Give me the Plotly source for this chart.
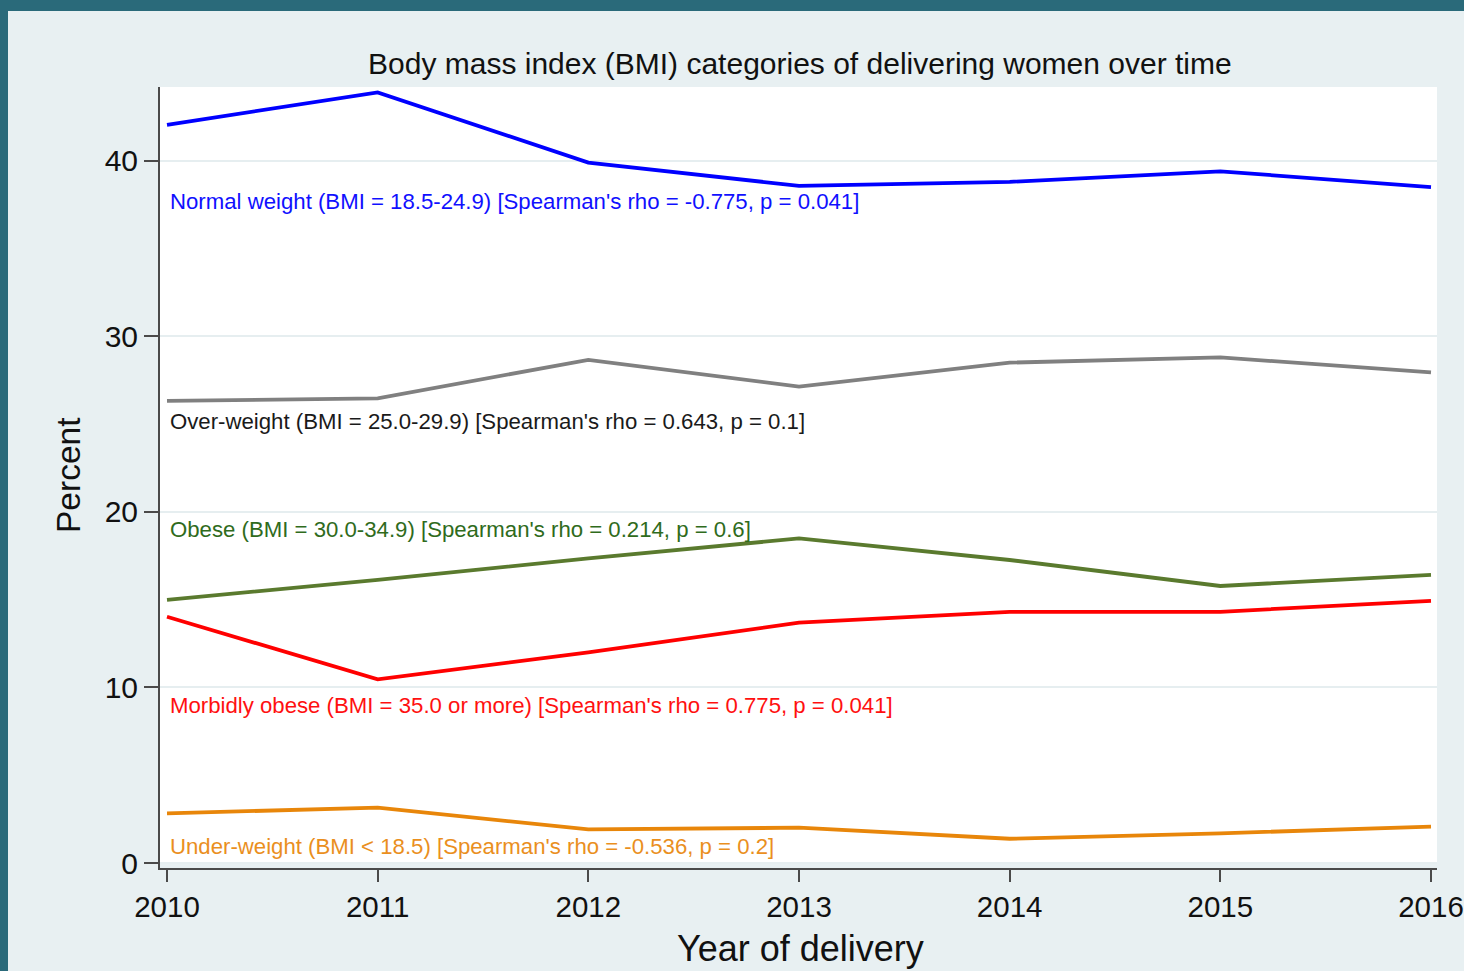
import plotly.graph_objects as go

# ---------------- data ----------------
years = [2010, 2011, 2012, 2013, 2014, 2015, 2016]
normal_weight = [42.05, 43.9, 39.9, 38.57, 38.8, 39.4, 38.5]
over_weight = [26.32, 26.47, 28.66, 27.14, 28.5, 28.8, 27.95]
obese = [14.99, 16.13, 17.35, 18.49, 17.26, 15.78, 16.41]
morbidly_obese = [14.03, 10.46, 12.0, 13.69, 14.31, 14.31, 14.93]
under_weight = [2.83, 3.15, 1.91, 2.01, 1.38, 1.69, 2.07]

x_tick_vals = [2010, 2011, 2012, 2013, 2014, 2015, 2016]
x_tick_text = ["2010", "2011", "2012", "2013", "2014", "2015", "2016"]
y_tick_vals = [0, 10, 20, 30, 40]
y_tick_text = ["0", "10", "20", "30", "40"]

label_normal = "Normal weight (BMI = 18.5-24.9) [Spearman's rho = -0.775, p = 0.041]"
label_over = "Over-weight (BMI = 25.0-29.9) [Spearman's rho = 0.643, p = 0.1]"
label_obese = "Obese (BMI = 30.0-34.9) [Spearman's rho = 0.214, p = 0.6]"
label_morbid = "Morbidly obese (BMI = 35.0 or more) [Spearman's rho = 0.775, p = 0.041]"
label_under = "Under-weight (BMI < 18.5) [Spearman's rho = -0.536, p = 0.2]"

title = "Body mass index (BMI) categories of delivering women over time"

# ---------------- layout geometry (pixels) ----------------
W, H = 1464, 971
L, R, T, B = 160, 1437, 87, 868
FONT = "Arial, Liberation Sans, sans-serif"
BG = "#e8f0f2"
TEAL = "#2a6a7a"


def px(xp):
    return (xp - L) / (R - L)


def py(yp):
    return (B - yp) / (B - T)


series = [
    (normal_weight, "#0000ff", label_normal, "#1010ff", 202),
    (over_weight, "#808080", label_over, "#1a1a1a", 421),
    (obese, "#5a7a2e", label_obese, "#2f6b1c", 529),
    (morbidly_obese, "#ff0000", label_morbid, "#ff1010", 705),
    (under_weight, "#e8860a", label_under, "#ea8f1e", 846),
]

fig = go.Figure()
for vals, col, lab, tcol, ycen in series:
    fig.add_trace(go.Scatter(x=years, y=vals, mode="lines",
                             line=dict(color=col, width=3.8),
                             showlegend=False, hoverinfo="skip"))

annotations = []
for vals, col, lab, tcol, ycen in series:
    annotations.append(dict(
        text=lab, xref="paper", yref="paper", x=px(168), y=py(ycen),
        xanchor="left", yanchor="middle", showarrow=False,
        font=dict(family=FONT, size=22.2, color=tcol)))

annotations.append(dict(
    text=title, xref="paper", yref="paper", x=px(800), y=py(64),
    xanchor="center", yanchor="middle", showarrow=False,
    font=dict(family=FONT, size=30, color="#111111")))
annotations.append(dict(
    text="Year of delivery", xref="paper", yref="paper", x=px(800), y=py(948),
    xanchor="center", yanchor="middle", showarrow=False,
    font=dict(family=FONT, size=36, color="#111111")))
annotations.append(dict(
    text="Percent", xref="paper", yref="paper", x=px(68), y=py(475),
    xanchor="center", yanchor="middle", showarrow=False, textangle=-90,
    font=dict(family=FONT, size=33.5, color="#111111")))

shapes = [
    # white plot region
    dict(type="rect", xref="paper", yref="paper", x0=0, x1=1,
         y0=py(862), y1=1, fillcolor="white", line=dict(width=0), layer="below"),
    # teal frame (top and left)
    dict(type="rect", xref="paper", yref="paper", x0=px(0), x1=px(W),
         y0=py(11), y1=py(0), fillcolor=TEAL, line=dict(width=0), layer="above"),
    dict(type="rect", xref="paper", yref="paper", x0=px(0), x1=px(8),
         y0=py(H), y1=py(0), fillcolor=TEAL, line=dict(width=0), layer="above"),
]

y0v = (863 - B) / 17.555
y1v = (863 - T) / 17.555
x0v = 2010 + (L - 167) / 210.67
x1v = 2016 + (R - 1431) / 210.67

fig.update_layout(
    width=W, height=H, autosize=False,
    margin=dict(l=L, r=W - R, t=T, b=H - B, autoexpand=False),
    paper_bgcolor=BG, plot_bgcolor=BG,
    font=dict(family=FONT, color="#111111"),
    annotations=annotations, shapes=shapes,
    xaxis=dict(range=[x0v, x1v], tickvals=x_tick_vals, ticktext=x_tick_text,
               showgrid=False, zeroline=False, showline=True, automargin=False,
               linecolor="#4a4a4a", linewidth=2, ticks="outside", ticklen=12,
               tickwidth=1.5, tickcolor="#4a4a4a", ticklabeloverflow="allow",
               tickfont=dict(family=FONT, size=29.5, color="#111111")),
    yaxis=dict(range=[y0v, y1v], tickvals=y_tick_vals, ticktext=y_tick_text,
               showgrid=True, gridcolor="#e6eef0", gridwidth=2,
               zeroline=False, showline=True, automargin=False,
               linecolor="#4a4a4a", linewidth=2, ticks="outside", ticklen=14,
               tickwidth=1.5, tickcolor="#4a4a4a",
               tickfont=dict(family=FONT, size=30, color="#111111")),
)

post = """
document.documentElement.style.overflow = 'hidden';
document.body.style.overflow = 'hidden';
document.body.style.margin = '0';
document.body.style.background = '%s';
""" % BG

fig.write_html("out.html", config={"responsive": False}, post_script=post)
